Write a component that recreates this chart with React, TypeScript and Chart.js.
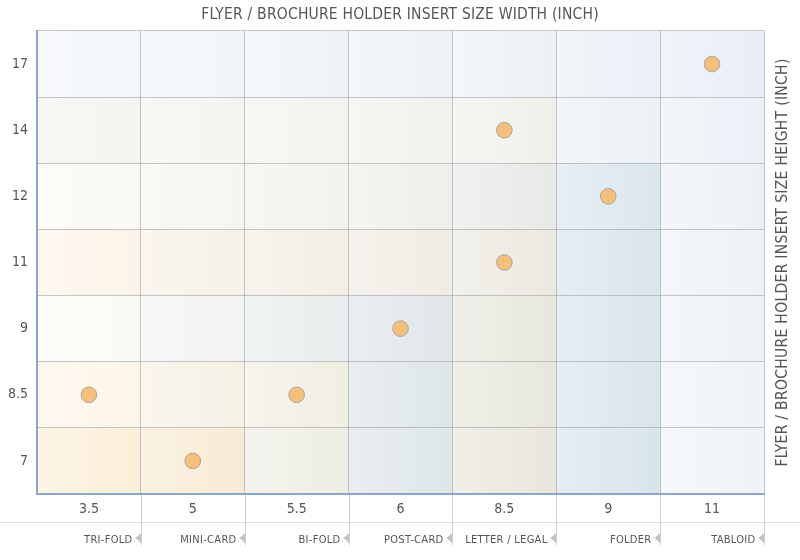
import React, { useEffect, useRef } from 'react';
import { Chart, registerables } from 'chart.js';
Chart.register(...registerables);

// ---- data ----
const widthLabels = ['3.5', '5', '5.5', '6', '8.5', '9', '11'];
const heightLabels = ['7', '8.5', '9', '11', '12', '14', '17'];
const holderTypes = ['TRI-FOLD', 'MINI-CARD', 'BI-FOLD', 'POST-CARD', 'LETTER / LEGAL', 'FOLDER', 'TABLOID'];
const insertWidths = ['3.5', '5', '5.5', '6', '8.5', '8.5', '9', '11'];
const insertHeights = ['8.5', '7', '8.5', '9', '11', '14', '12', '17'];

const X_TITLE = 'FLYER / BROCHURE HOLDER INSERT SIZE WIDTH (INCH)';
const Y_TITLE = 'FLYER / BROCHURE HOLDER INSERT SIZE HEIGHT (INCH)';

// ---- styles ----
const FONT = '"DejaVu Sans Condensed", "Liberation Sans Narrow", sans-serif';
const TEXT = '#555555';
const GRID = 'rgba(150,152,156,0.55)';
const AXIS = '#8ba6c9';
// cell tints, row 0 = bottom
const CELL_COLORS = [
  ['#fcefd8', '#f8ebd4', '#eeede4', '#dee6e8', '#e8e6dc', '#d8e4ec', '#eff3f9'],
  ['#fdf5e8', '#f6f1e5', '#f1eee3', '#dee6e8', '#e8e7dd', '#d9e5ec', '#eff3f8'],
  ['#fbfaf6', '#f3f4f1', '#e9eded', '#dfe6e9', '#e8e7de', '#d9e5ec', '#eef2f8'],
  ['#fcf4e8', '#f7f1e7', '#f3eee5', '#efece3', '#ebe9e0', '#d9e5ec', '#eef2f8'],
  ['#fbf9f3', '#f5f5f1', '#f2f2ee', '#eeeeea', '#e8eae7', '#dbe6ed', '#edf1f7'],
  ['#f5f4f0', '#f5f4f0', '#f4f3ef', '#f3f1ed', '#f0f0eb', '#ecf1f7', '#ecf0f7'],
  ['#f3f6fa', '#f1f5f9', '#eff3f8', '#eef2f7', '#edf1f7', '#ebf0f7', '#e9eef6'],
];

const decorPlugin = {
  id: 'decor',
  beforeDraw(chart: any) {
    const { ctx } = chart;
    const x = chart.scales.x;
    const y = chart.scales.y;
    const cw = (x.right - x.left) / widthLabels.length;
    const ch = (y.bottom - y.top) / heightLabels.length;
    ctx.save();
    heightLabels.forEach((_h, r) => {
      widthLabels.forEach((_w, c) => {
        const cx = x.getPixelForValue(c);
        const cy = y.getPixelForValue(r);
        const l = cx - cw / 2;
        const t = cy - ch / 2;
        ctx.fillStyle = CELL_COLORS[r][c];
        ctx.fillRect(l, t, cw, ch);
        const g = ctx.createLinearGradient(l, 0, l + cw, 0);
        g.addColorStop(0, 'rgba(255,255,255,0.35)');
        g.addColorStop(1, 'rgba(255,255,255,0)');
        ctx.fillStyle = g;
        ctx.fillRect(l, t, cw, ch);
      });
    });
    ctx.restore();
    ctx.letterSpacing = '0.2px';
  },
  afterDatasetsDraw(chart: any) {
    chart.ctx.letterSpacing = '0px';
  },
  afterDraw(chart: any) {
    const { ctx, chartArea } = chart;
    const x = chart.scales.x;
    const cw = (x.right - x.left) / widthLabels.length;
    ctx.save();
    // separator line under the tick labels
    ctx.strokeStyle = '#dedede';
    ctx.lineWidth = 1;
    ctx.beginPath();
    ctx.moveTo(0, chartArea.bottom + 28.5);
    ctx.lineTo(chart.width, chartArea.bottom + 28.5);
    ctx.stroke();
    ctx.strokeStyle = '#cfcfcf';
    holderTypes.forEach((name, i) => {
      const right = Math.round(x.getPixelForValue(i) + cw / 2) + 0.5;
      ctx.beginPath();
      ctx.moveTo(right, chartArea.bottom + 1);
      ctx.lineTo(right, chartArea.bottom + 51);
      ctx.stroke();
      ctx.fillStyle = '#c2c2c2';
      ctx.beginPath();
      ctx.moveTo(right - 0.5, chartArea.bottom + 39);
      ctx.lineTo(right - 0.5, chartArea.bottom + 49);
      ctx.lineTo(right - 6, chartArea.bottom + 44);
      ctx.closePath();
      ctx.fill();
      ctx.fillStyle = TEXT;
      ctx.font = `11px ${FONT}`;
      ctx.letterSpacing = '0.3px';
      ctx.textAlign = 'right';
      ctx.textBaseline = 'alphabetic';
      ctx.fillText(name, right - 9, chartArea.bottom + 48.5);
    });
    ctx.translate(783, (chartArea.top + chartArea.bottom) / 2);
    ctx.rotate(-Math.PI / 2);
    ctx.font = `15.5px ${FONT}`;
    ctx.letterSpacing = '0.3px';
    ctx.fillStyle = TEXT;
    ctx.textAlign = 'center';
    ctx.textBaseline = 'middle';
    ctx.fillText(Y_TITLE, 0, 0);
    ctx.restore();
  },
};

export default function App() {
  const ref = useRef<HTMLCanvasElement>(null);
  useEffect(() => {
    if (!ref.current) return;
    const chart = new Chart(ref.current, {
      type: 'scatter',
      data: {
        datasets: [
          {
            label: 'Insert sizes',
            data: insertWidths.map((w, i) => ({ x: w, y: insertHeights[i] })) as any,
            backgroundColor: '#f5c07c',
            borderColor: '#a9a49c',
            borderWidth: 1,
            pointRadius: 7.8,
            pointHoverRadius: 7.8,
          },
        ],
      },
      options: {
        responsive: false,
        animation: false,
        layout: { padding: 0 },
        plugins: {
          legend: { display: false },
          tooltip: { enabled: false },
          title: {
            display: true,
            text: X_TITLE,
            color: TEXT,
            font: { family: FONT, size: 15.5, weight: 'normal', lineHeight: 1.2 },
            padding: { top: 6, bottom: 6.4 },
          },
        },
        scales: {
          x: {
            type: 'category',
            labels: widthLabels,
            offset: true,
            grid: { offset: true, color: GRID, drawTicks: false },
            border: { color: AXIS, width: 2 },
            ticks: { padding: 7, color: TEXT, font: { family: FONT, size: 14 }, z: 1, maxRotation: 0, autoSkip: false },
            afterFit: (s: any) => { s.height = 66; },
          },
          y: {
            type: 'category',
            labels: heightLabels,
            reverse: true,
            offset: true,
            grid: { offset: true, color: GRID, drawTicks: false },
            border: { color: AXIS, width: 2 },
            ticks: { padding: 9, color: TEXT, font: { family: FONT, size: 14 }, z: 1, autoSkip: false },
            afterFit: (s: any) => { s.width = 37; },
          },
          y2: {
            type: 'linear',
            position: 'right',
            display: true,
            grid: { display: false },
            border: { display: false },
            ticks: { display: false },
            afterFit: (s: any) => { s.width = 36; },
          },
        } as any,
      },
      plugins: [decorPlugin],
    });
    return () => chart.destroy();
  }, []);
  return (
    <div style={{ position: 'absolute', left: 0, top: 0, width: 800, height: 560, background: '#fff' }}>
      <canvas ref={ref} width={800} height={560} />
    </div>
  );
}
